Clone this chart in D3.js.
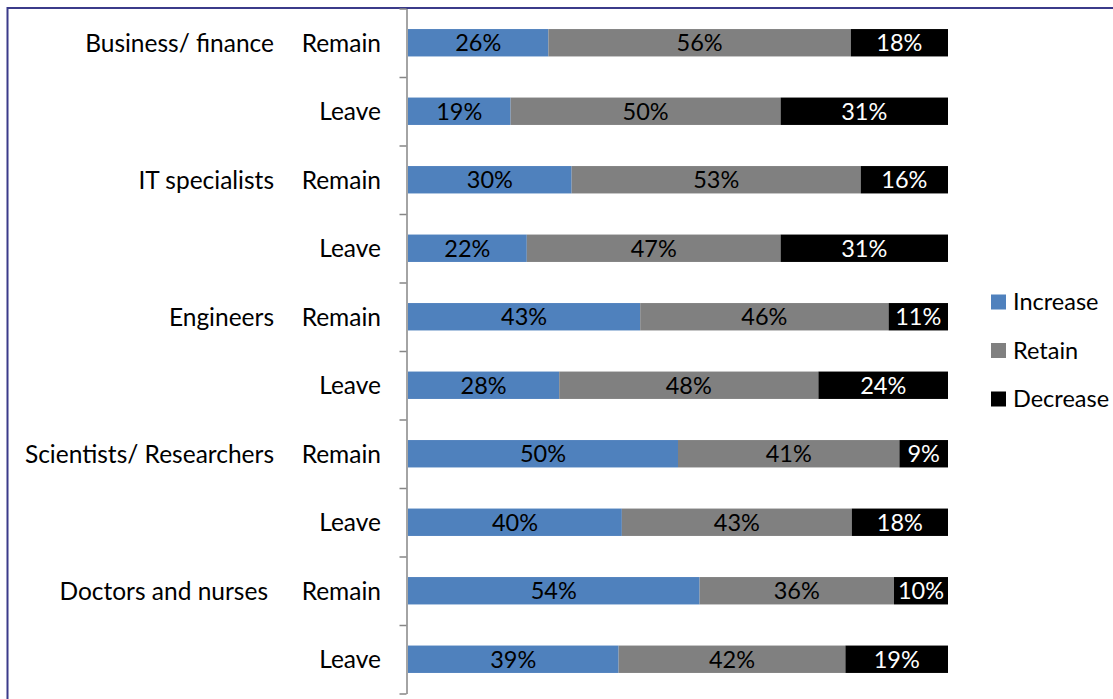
<!DOCTYPE html>
<html>
<head>
<meta charset="utf-8">
<script src="https://cdn.jsdelivr.net/npm/d3@7/dist/d3.min.js"></script>
<style>
  html, body { margin: 0; padding: 0; background: #fff; }
  svg text { font-family: Lato, "Open Sans", sans-serif; }
</style>
</head>
<body>
<svg id="chart" width="1113" height="699"></svg>
<script>
// Occupational groups, each split into Remain / Leave respondents
const groups = ["Business/ finance", "IT specialists", "Engineers", "Scientists/ Researchers", "Doctors and nurses"];
const subgroups = ["Remain", "Leave"];
const seriesNames = ["Increase", "Retain", "Decrease"];
const seriesColors = ["#4f81bd", "#808080", "#000000"];

// Percentages per row, in order: Business R/L, IT R/L, Engineers R/L, Scientists R/L, Doctors R/L
const increase = [26, 19, 30, 22, 43, 28, 50, 40, 54, 39];
const retain   = [56, 50, 53, 47, 46, 48, 41, 43, 36, 42];
const decrease = [18, 31, 16, 31, 11, 24, 9, 18, 10, 19];

const rows = [];
groups.forEach((g, gi) => subgroups.forEach((s, si) => {
  const i = gi * subgroups.length + si;
  rows.push({ id: i, group: g, sub: s, Increase: increase[i], Retain: retain[i], Decrease: decrease[i] });
}));

const svg = d3.select("#chart");
const labelSize = 24.5, valueSize = 23.5;

const plotTop = 8.5, plotBottom = 693.5;
const x = d3.scaleLinear().domain([0, 1]).range([408, 948]);
const y = d3.scaleBand()
  .domain(rows.map(d => d.id))
  .range([plotTop, plotBottom])
  .paddingInner(0.6)
  .paddingOuter(0.3);

// 100% stacked layout
const stacked = d3.stack().keys(seriesNames).offset(d3.stackOffsetExpand)(rows);

// Outer frame
svg.append("path")
  .attr("d", "M7.5,720V8H1120")
  .attr("fill", "none")
  .attr("stroke", "#3b3b8a")
  .attr("stroke-width", 2);

// Category axis with ticks between rows
const boundary = d3.scaleLinear().domain([0, rows.length]).range([plotTop, plotBottom]);
const axis = svg.append("g")
  .attr("transform", "translate(406.5,0)")
  .call(d3.axisLeft(boundary).tickValues(d3.range(0, rows.length + 1)).tickSize(7).tickSizeOuter(0).tickFormat(""));
axis.selectAll("path, line").attr("stroke", "#868686").attr("stroke-width", 1.5);

// Bars
const layer = svg.append("g").selectAll("g")
  .data(stacked)
  .join("g")
  .attr("fill", (d, i) => seriesColors[i]);

layer.selectAll("rect")
  .data(d => d.map(p => ({ p, row: p.data })))
  .join("rect")
  .attr("x", d => x(d.p[0]))
  .attr("width", d => x(d.p[1]) - x(d.p[0]))
  .attr("y", d => y(d.row.id))
  .attr("height", y.bandwidth());

// Value labels
const labelGroup = svg.append("g").attr("font-size", valueSize).attr("text-anchor", "middle");
stacked.forEach((s, si) => {
  labelGroup.selectAll(null)
    .data(s)
    .join("text")
    .attr("x", d => (x(d[0]) + x(d[1])) / 2)
    .attr("y", d => y(d.data.id) + y.bandwidth() / 2)
    .attr("dy", "0.36em")
    .attr("fill", si === 2 ? "#ffffff" : "#000000")
    .text(d => d.data[s.key] + "%");
});

// Row labels: Remain / Leave
svg.append("g").attr("font-size", labelSize).attr("text-anchor", "end")
  .selectAll("text")
  .data(rows)
  .join("text")
  .attr("x", 381)
  .attr("y", d => y(d.id) + y.bandwidth() / 2)
  .attr("dy", "0.36em")
  .attr("fill", "#000")
  .text(d => d.sub);

// Group labels, beside each group's first row
svg.append("g").attr("font-size", labelSize).attr("text-anchor", "end")
  .selectAll("text")
  .data(rows.filter(d => d.sub === subgroups[0]))
  .join("text")
  .attr("x", d => d.group === "Doctors and nurses" ? 268 : 274)
  .attr("y", d => y(d.id) + y.bandwidth() / 2)
  .attr("dy", "0.36em")
  .attr("fill", "#000")
  .text(d => d.group);

// Legend
const legend = svg.append("g").attr("transform", "translate(991,302)");
const item = legend.selectAll("g")
  .data(seriesNames)
  .join("g")
  .attr("transform", (d, i) => `translate(0,${i * 48.5})`);
item.append("rect")
  .attr("x", 0).attr("y", -7.5).attr("width", 15).attr("height", 15)
  .attr("fill", (d, i) => seriesColors[i]);
item.append("text")
  .attr("x", 22).attr("y", 0).attr("dy", "0.36em")
  .attr("font-size", 23.5).attr("fill", "#000")
  .text(d => d);
</script>
</body>
</html>
